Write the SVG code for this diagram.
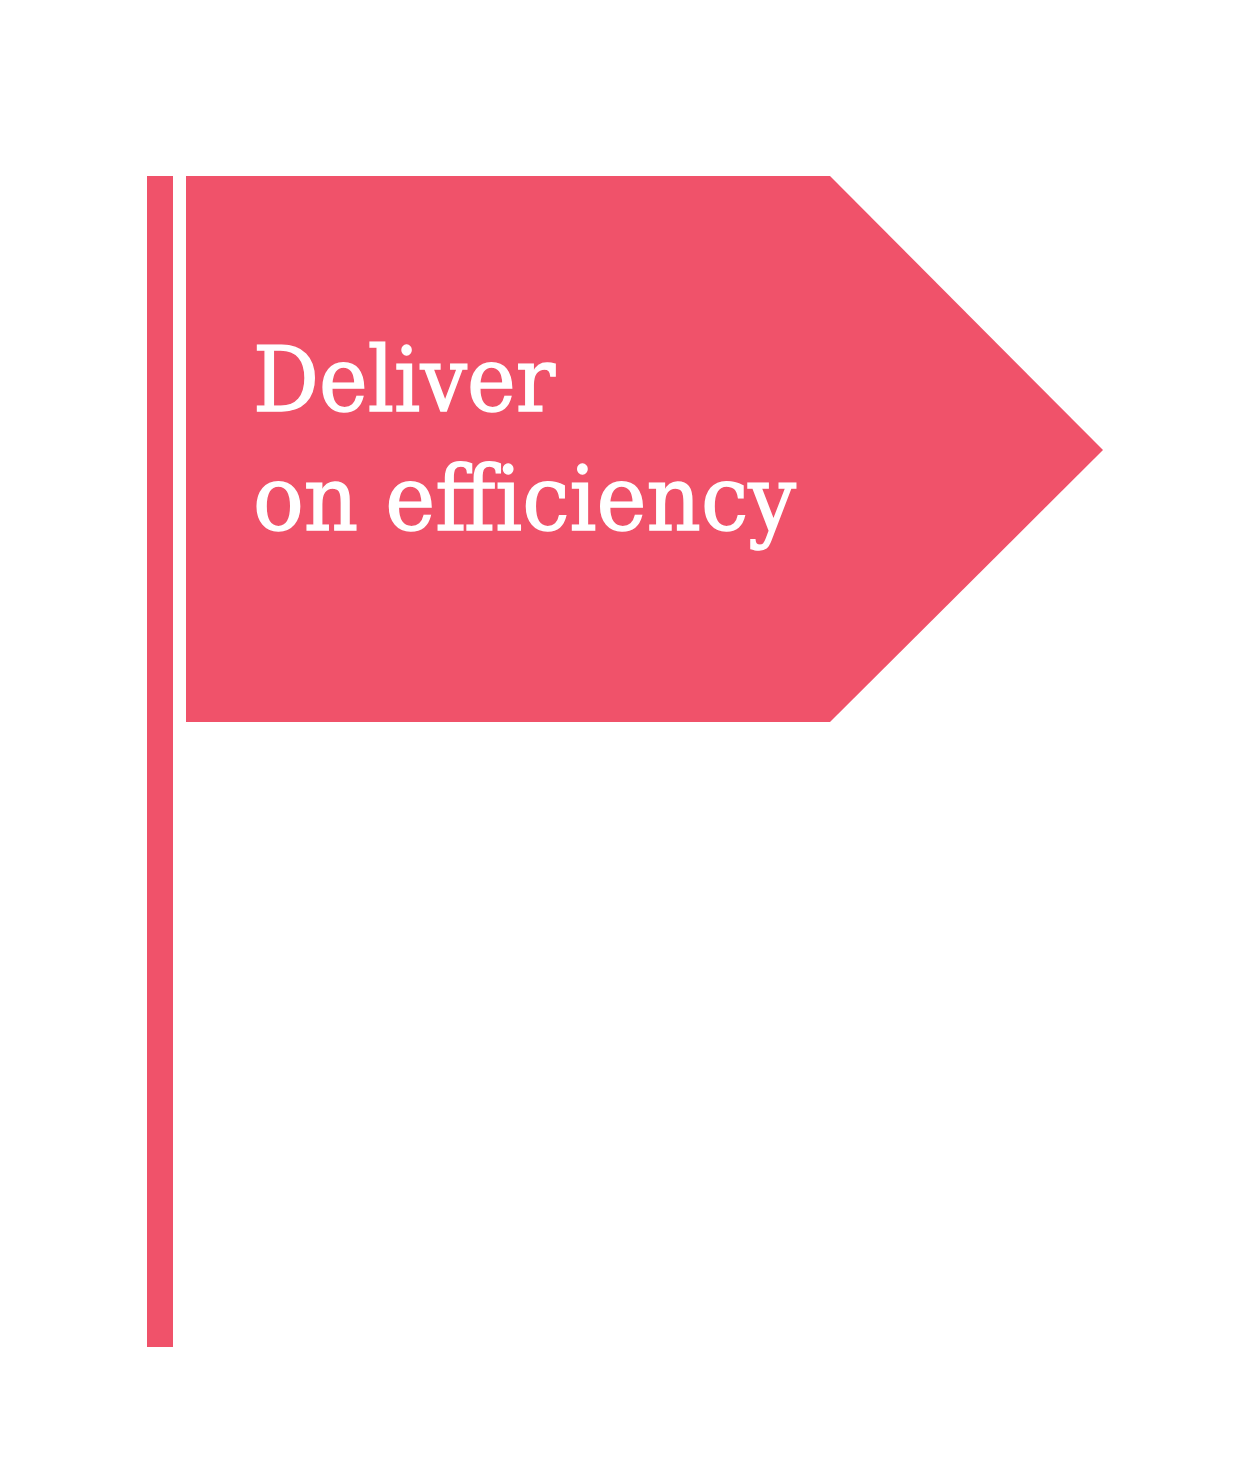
<svg xmlns="http://www.w3.org/2000/svg" width="1251" height="1460" viewBox="0 0 1251 1460">
<style>
.fill{fill:#F0526A}
.lbl{font-family:"DejaVu Serif","Liberation Serif",serif;font-size:90px;fill:#FFFFFF;stroke:#FFFFFF;stroke-width:1.5px}
</style>
<rect width="1251" height="1460" fill="#FFFFFF"/>
<g id="pole"><rect class="fill" x="147" y="176" width="26" height="1171"/></g>
<g id="flag">
<polygon class="fill" points="186,176 830,176 1103,450 830,722 186,722"/>
<text class="lbl" x="253" y="411" textLength="302" lengthAdjust="spacingAndGlyphs">Deliver</text>
<text class="lbl" x="253" y="530" textLength="543" lengthAdjust="spacingAndGlyphs">on efficiency</text>
</g>
</svg>
